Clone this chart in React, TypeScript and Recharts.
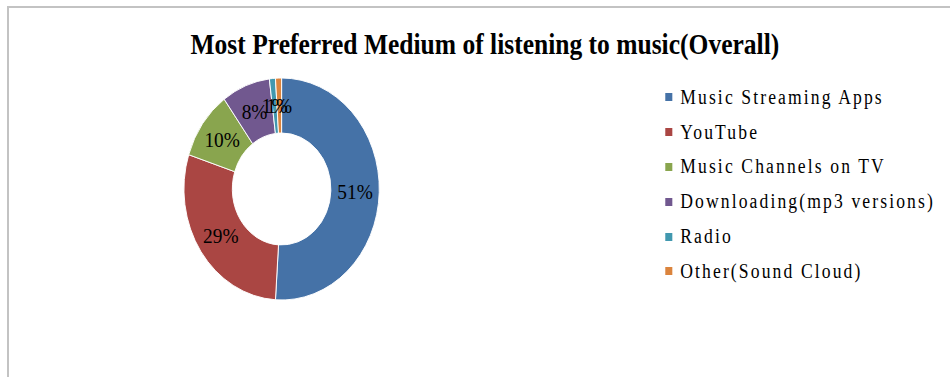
import React from "react";
import { PieChart, Pie, Cell, Legend } from "recharts";

const categories = [
  "Music Streaming Apps",
  "YouTube",
  "Music Channels on TV",
  "Downloading(mp3 versions)",
  "Radio",
  "Other(Sound Cloud)",
];
const shares = [51, 29, 10, 8, 1, 1];
const colors = ["#4572a7", "#aa4643", "#89a54e", "#71588f", "#4198af", "#db843d"];

const chartTitle = "Most Preferred Medium of listening to music(Overall)";

const data = categories.map((name, i) => ({ name, value: shares[i] }));

// The whole drawing is laid out on a wider canvas and squeezed horizontally.
const SX = 0.88;
const W = 950;
const H = 377;
const INNER_W = Math.round(W / SX);
const SERIF = "'Liberation Serif', 'Times New Roman', serif";

const RADIAN = Math.PI / 180;

const renderLabel = (props: any) => {
  const { cx, cy, midAngle, innerRadius, outerRadius, value } = props;
  const r = (innerRadius + outerRadius) / 2;
  const x = cx + r * Math.cos(-midAngle * RADIAN);
  const y = cy + r * Math.sin(-midAngle * RADIAN);
  return (
    <text
      x={x}
      y={y}
      textAnchor="middle"
      dominantBaseline="central"
      fill="#000"
      fontFamily={SERIF}
      fontSize={22}
    >
      {`${value}%`}
    </text>
  );
};

const renderLegend = () => (
  <div style={{ fontFamily: SERIF, fontSize: 20, color: "#000" }}>
    {categories.map((name, i) => (
      <div
        key={name}
        style={{
          display: "flex",
          alignItems: "center",
          height: 34.8,
          letterSpacing: 2.4,
          whiteSpace: "nowrap",
        }}
      >
        <span
          style={{
            display: "inline-block",
            width: 8,
            height: 8,
            background: colors[i],
            marginRight: 9,
          }}
        />
        <span>{name}</span>
      </div>
    ))}
  </div>
);

export default function App() {
  return (
    <div
      style={{
        position: "absolute",
        left: 0,
        top: 0,
        width: W,
        height: H,
        overflow: "hidden",
        background: "#fff",
      }}
    >
      <div
        style={{
          position: "absolute",
          left: 7,
          top: 6,
          width: W + 40,
          height: H + 40,
          borderLeft: "2px solid #c3c3c3",
          borderTop: "2px solid #c3c3c3",
        }}
      />
      <div
        style={{
          position: "absolute",
          left: 0,
          top: 0,
          width: INNER_W,
          height: H,
          transform: `scaleX(${SX})`,
          transformOrigin: "0 0",
        }}
      >
        <div
          style={{
            position: "absolute",
            left: 0,
            top: 27,
            width: 1102,
            textAlign: "center",
            fontFamily: SERIF,
            fontWeight: "bold",
            fontSize: 29,
            color: "#000",
            lineHeight: "34px",
            whiteSpace: "nowrap",
          }}
        >
          {chartTitle}
        </div>
        <PieChart width={INNER_W} height={H} margin={{ top: 0, right: 0, bottom: 0, left: 0 }}>
          <Pie
            data={data}
            dataKey="value"
            nameKey="name"
            cx={320}
            cy={189}
            innerRadius={56}
            outerRadius={111}
            startAngle={90}
            endAngle={-270}
            stroke="#fff"
            strokeWidth={1}
            label={renderLabel}
            labelLine={false}
            isAnimationActive={false}
          >
            {data.map((d, i) => (
              <Cell key={d.name} fill={colors[i]} />
            ))}
          </Pie>
          <Legend
            layout="vertical"
            verticalAlign="top"
            align="right"
            content={renderLegend}
            wrapperStyle={{ left: 756, top: 80, width: 330 }}
          />
        </PieChart>
      </div>
    </div>
  );
}
